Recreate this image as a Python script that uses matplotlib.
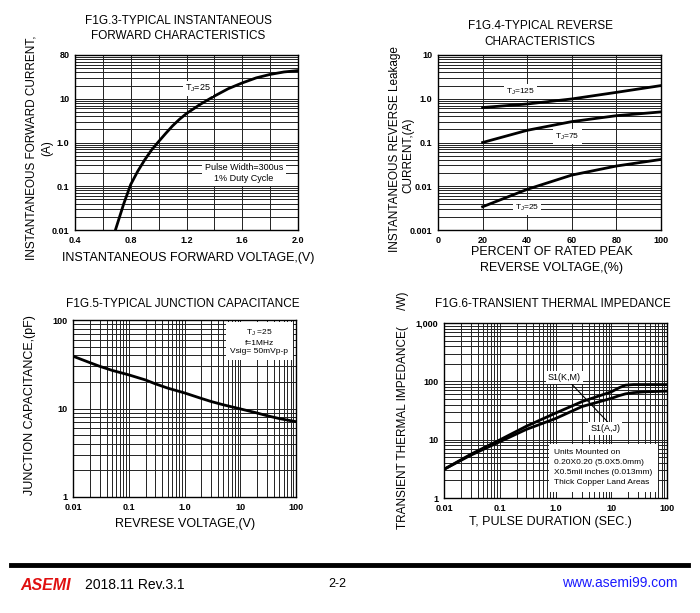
import numpy as np
import matplotlib
matplotlib.use("Agg")
import matplotlib.pyplot as plt
from matplotlib.ticker import FixedLocator, NullFormatter, LogLocator

plt.rcParams['font.family'] = ['Liberation Sans', 'DejaVu Sans']

# fig 3 - forward characteristics
vf = [0.69, 0.72, 0.75, 0.8, 0.85, 0.9, 0.95, 1.0, 1.05, 1.1, 1.15, 1.2, 1.3, 1.4, 1.5, 1.6, 1.7, 1.8, 1.9, 2.0]
i_f = [0.01, 0.02, 0.04, 0.11, 0.22, 0.4, 0.68, 1.05, 1.6, 2.4, 3.4, 4.6, 7.5, 11.5, 17, 23, 30, 36, 41, 44]

# fig 4 - reverse leakage
pct = [20, 40, 60, 80, 100]
ir_125 = [0.63, 0.76, 0.99, 1.4, 2.0]
ir_75 = [0.10, 0.19, 0.30, 0.41, 0.50]
ir_25 = [0.0034, 0.0085, 0.018, 0.029, 0.041]

# fig 5 - junction capacitance
vr = [0.01, 0.02, 0.03, 0.05, 0.1, 0.2, 0.3, 0.5, 1.0, 2.0, 3.0, 5.0, 10, 20, 30, 50, 100]
cj = [39, 33, 30, 27, 24, 21, 19, 17, 15, 13, 12, 11, 9.9, 8.9, 8.3, 7.7, 7.1]

# fig 6 - transient thermal impedance
tp = [0.01, 0.03, 0.1, 0.3, 1.0, 3.0, 10, 14, 18, 25, 40, 100]
z_km = [3.1, 5.6, 9.9, 17, 28.5, 45, 66, 78, 86, 88, 88, 88]
z_aj = [3.1, 5.4, 9.2, 15, 23, 37, 51, 57, 61, 64, 66, 68]

W, H = 700, 613
fig = plt.figure(figsize=(7.0, 6.13), dpi=100)


def px_axes(l, t, r, b):
    return fig.add_axes([l / W, 1 - b / H, (r - l) / W, (b - t) / H])


def ftext(x, y, s, **kw):
    kw.setdefault('ha', 'center')
    kw.setdefault('va', 'center')
    kw.setdefault('fontsize', 8.5)
    fig.text(x / W, 1 - y / H, s, **kw)


def style(ax):
    ax.grid(which='both', color='#222222', lw=0.7)
    ax.tick_params(which='both', length=0, labelsize=6.5, pad=4)
    for lab in ax.get_xticklabels() + ax.get_yticklabels():
        lab.set_fontweight('bold')
    for sp in ax.spines.values():
        sp.set_linewidth(1.0)
    ax.set_axisbelow(True)


box = dict(facecolor='white', edgecolor='none', pad=1.5)

# ---- FIG 3
ax3 = px_axes(75, 55, 298, 230)
ax3.plot(vf, i_f, color='k', lw=2.0)
ax3.set_yscale('log')
ax3.set_xlim(0.4, 2.0)
ax3.set_ylim(0.01, 100)
ax3.xaxis.set_major_locator(FixedLocator(np.arange(0.4, 2.01, 0.4)))
ax3.xaxis.set_minor_locator(FixedLocator(np.arange(0.4, 2.01, 0.2)))
ax3.set_xticklabels(['0.4', '0.8', '1.2', '1.6', '2.0'])
ax3.yaxis.set_major_locator(FixedLocator([0.01, 0.1, 1, 10, 100]))
ax3.yaxis.set_minor_locator(LogLocator(base=10, subs=np.arange(2, 10)))
ax3.yaxis.set_minor_formatter(NullFormatter())
ax3.set_yticklabels(['0.01', '0.1', '1.0', '10', '80'])
style(ax3)
ax3.text(1.28, 17, 'T$_\\mathregular{J}$=25', fontsize=6.5, ha='center', va='center', bbox=box)
ax3.text(1.61, 0.2, 'Pulse Width=300us\n1% Duty Cycle', fontsize=6.5, ha='center',
         va='center', bbox=dict(facecolor='white', edgecolor='none', pad=2))
ftext(178, 21, 'F1G.3-TYPICAL INSTANTANEOUS')
ftext(178, 36, 'FORWARD CHARACTERISTICS')
ftext(188, 258, 'INSTANTANEOUS FORWARD VOLTAGE,(V)', fontsize=9)
ftext(32, 148, 'INSTANTANEOUS FORWARD CURRENT,', fontsize=8.5, rotation=90)
ftext(47, 148, '(A)', fontsize=8.5, rotation=90)

# ---- FIG 4
ax4 = px_axes(438, 55, 661, 230)
ax4.plot(pct, ir_125, color='k', lw=2.0)
ax4.plot(pct, ir_75, color='k', lw=2.0)
ax4.plot(pct, ir_25, color='k', lw=2.0)
ax4.set_yscale('log')
ax4.set_xlim(0, 100)
ax4.set_ylim(0.001, 10)
ax4.xaxis.set_major_locator(FixedLocator([0, 20, 40, 60, 80, 100]))
ax4.yaxis.set_major_locator(FixedLocator([0.001, 0.01, 0.1, 1, 10]))
ax4.yaxis.set_minor_locator(LogLocator(base=10, subs=np.arange(2, 10)))
ax4.yaxis.set_minor_formatter(NullFormatter())
ax4.set_yticklabels(['0.001', '0.01', '0.1', '1.0', '10'])
style(ax4)
ax4.text(37, 1.45, 'T$_\\mathregular{J}$=125', fontsize=6, ha='center', va='center', bbox=box)
ax4.text(58, 0.135, 'T$_\\mathregular{J}$=75', fontsize=6, ha='center', va='center', bbox=box)
ax4.text(40, 0.0033, 'T$_\\mathregular{J}$=25', fontsize=6, ha='center', va='center', bbox=box)
ftext(540, 26, 'F1G.4-TYPICAL REVERSE')
ftext(540, 42, 'CHARACTERISTICS')
ftext(552, 252, 'PERCENT OF RATED PEAK', fontsize=9)
ftext(552, 268, 'REVERSE VOLTAGE,(%)', fontsize=9)
ftext(395, 149, 'INSTANTANEOUS REVERSE Leakage', fontsize=8.5, rotation=90)
ftext(408, 155, 'CURRENT,(A)', fontsize=8.5, rotation=90)

# ---- FIG 5
ax5 = px_axes(73, 320, 296, 497)
ax5.plot(vr, cj, color='k', lw=2.0)
ax5.set_xscale('log')
ax5.set_yscale('log')
ax5.set_xlim(0.01, 100)
ax5.set_ylim(1, 100)
ax5.xaxis.set_major_locator(FixedLocator([0.01, 0.1, 1, 10, 100]))
ax5.xaxis.set_minor_locator(LogLocator(base=10, subs=np.arange(2, 10)))
ax5.xaxis.set_minor_formatter(NullFormatter())
ax5.set_xticklabels(['0.01', '0.1', '1.0', '10', '100'])
ax5.yaxis.set_major_locator(FixedLocator([1, 10, 100]))
ax5.yaxis.set_minor_locator(LogLocator(base=10, subs=np.arange(2, 10)))
ax5.yaxis.set_minor_formatter(NullFormatter())
ax5.set_yticklabels(['1', '10', '100'])
style(ax5)
ax5.text(22, 57, 'T$_\\mathregular{J}$ =25\nf=1MHz\nVsig= 50mVp-p', fontsize=6, ha='center',
         va='center', linespacing=1.3, bbox=dict(facecolor='white', edgecolor='none', pad=3))
ftext(183, 304, 'F1G.5-TYPICAL JUNCTION CAPACITANCE')
ftext(185, 524, 'REVRESE VOLTAGE,(V)', fontsize=9)
ftext(30, 405, 'JUNCTION CAPACITANCE,(pF)', fontsize=9, rotation=90)

# ---- FIG 6
ax6 = px_axes(444, 323, 667, 498)
ax6.plot(tp, z_km, color='k', lw=2.0)
ax6.plot(tp, z_aj, color='k', lw=2.0)
ax6.set_xscale('log')
ax6.set_yscale('log')
ax6.set_xlim(0.01, 100)
ax6.set_ylim(1, 1000)
ax6.xaxis.set_major_locator(FixedLocator([0.01, 0.1, 1, 10, 100]))
ax6.xaxis.set_minor_locator(LogLocator(base=10, subs=np.arange(2, 10)))
ax6.xaxis.set_minor_formatter(NullFormatter())
ax6.set_xticklabels(['0.01', '0.1', '1.0', '10', '100'])
ax6.yaxis.set_major_locator(FixedLocator([1, 10, 100, 1000]))
ax6.yaxis.set_minor_locator(LogLocator(base=10, subs=np.arange(2, 10)))
ax6.yaxis.set_minor_formatter(NullFormatter())
ax6.set_yticklabels(['1', '10', '100', '1,000'])
style(ax6)
ax6.plot([1.75, 8.7], [100, 20], color='k', lw=0.8)
ax6.text(1.45, 118, 'S1(K,M)', fontsize=6.5, ha='center', va='center', bbox=box)
ax6.text(7.8, 15.5, 'S1(A,J)', fontsize=6.5, ha='center', va='center', bbox=box)
ax6.text(0.95, 3.3, 'Units Mounted on\n0.20X0.20 (5.0X5.0mm)\nX0.5mil inches (0.013mm)\nThick Copper Land Areas',
         fontsize=6, ha='left', va='center', linespacing=1.6,
         bbox=dict(facecolor='white', edgecolor='none', pad=4))
ftext(553, 304, 'F1G.6-TRANSIENT THERMAL IMPEDANCE')
ftext(550, 522, 'T, PULSE DURATION (SEC.)', fontsize=9)
ftext(403, 410, 'TRANSIENT THERMAL IMPEDANCE(     /W)', fontsize=8.5, rotation=90)

# ---- footer
fig.add_artist(plt.Line2D([11 / W, 688 / W], [1 - 565 / H, 1 - 565 / H], color='k', lw=3.5))
ftext(20, 585, 'ASEMI', fontsize=11.5, ha='left', color='#e01010', fontweight='bold', fontstyle='italic')
ftext(85, 585, '2018.11 Rev.3.1', fontsize=10, ha='left')
ftext(337, 584, '2-2', fontsize=9)
ftext(678, 583, 'www.asemi99.com', fontsize=10, ha='right', color='#1a1aff')

fig.savefig('out.png', dpi=100)
